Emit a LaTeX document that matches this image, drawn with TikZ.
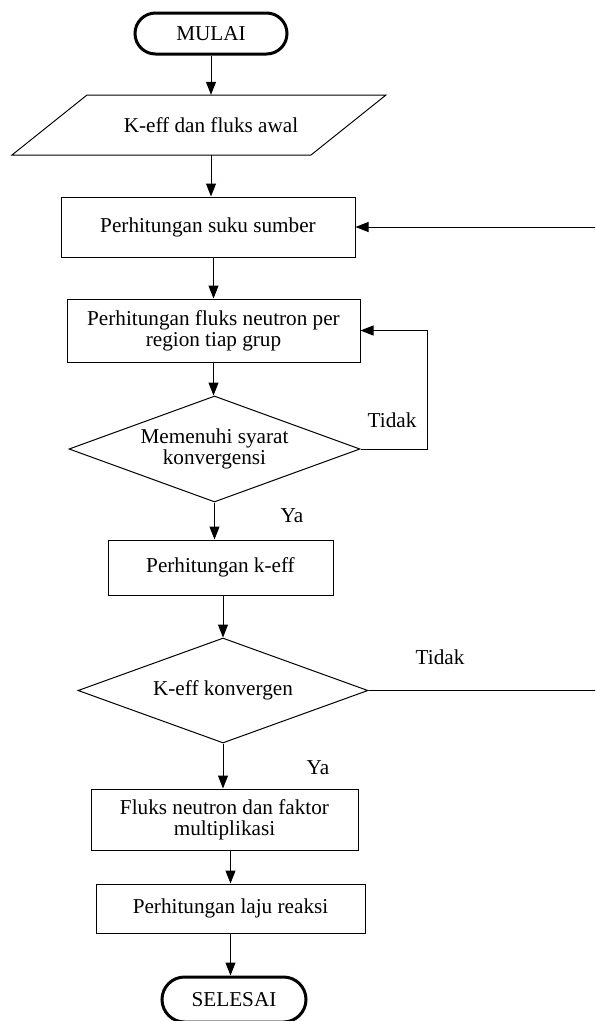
\documentclass[tikz,border=0pt]{standalone}
\usepackage{fontspec}
\setmainfont{Liberation Serif}
\usepackage{tikz}
\usetikzlibrary{arrows.meta, shapes.geometric, shapes.misc}

\begin{document}
\begin{tikzpicture}[x=1pt, y=-1pt,
    font=\fontsize{21.2}{21}\selectfont,
    arr/.style={-{Triangle[length=13pt, width=10pt]}, line width=1pt},
    terminal/.style={rounded rectangle, draw, line width=3pt, minimum width=#1, minimum height=41pt, inner sep=0pt},
    proses/.style={rectangle, draw, line width=1pt, align=center, inner sep=0pt},
    keputusan/.style={diamond, draw, line width=1pt, align=center, inner sep=0pt, aspect=2.75}]
    \useasboundingbox (0, 0) rectangle (595, 1021);
    \clip (0, 0) rectangle (595, 1021);

    \node[terminal=152pt] (mulai) at (211, 33.5) {MULAI};
    \node[minimum width=224pt, minimum height=60pt, inner sep=0pt] (awal) at (211, 125) {K-eff dan fluks awal};
    \draw[line width=1pt] (87, 95) -- (386, 95) -- (311, 155) -- (12, 155) -- cycle;
    \node[proses, minimum width=294pt, minimum height=60pt] (suku) at (208, 227) {Perhitungan suku sumber};
    \node[proses, minimum width=293pt, minimum height=63pt] (fluks) at (213.5, 330.5) {Perhitungan fluks neutron per\\region tiap grup};
    \node[keputusan, minimum width=291pt, minimum height=106pt] (syarat) at (214.5, 449) {Memenuhi syarat\\konvergensi};
    \node[proses, minimum width=225pt, minimum height=55pt] (keff) at (220.5, 567.5) {Perhitungan k-eff};
    \node[keputusan, minimum width=290pt, minimum height=105pt] (konv) at (223, 690.5) {K-eff konvergen};
    \node[proses, minimum width=267pt, minimum height=61pt] (faktor) at (224.5, 819.5) {Fluks neutron dan faktor\\multiplikasi};
    \node[proses, minimum width=269pt, minimum height=49pt] (laju) at (230.5, 908.5) {Perhitungan laju reaksi};
    \node[terminal=144pt, minimum height=45pt] (selesai) at (234, 999.5) {SELESAI};

    \node (tidaka) at (392, 420) {Tidak};
    \node (yaa) at (292, 516) {Ya};
    \node (tidakb) at (440, 657) {Tidak};
    \node (yab) at (318, 768) {Ya};

    \draw[arr] (mulai.south) -- (mulai.south |- awal.north);
    \draw[arr] (awal.south) -- (awal.south |- suku.north);
    \draw[arr] (fluks.north |- suku.south) -- (fluks.north);
    \draw[arr] (fluks.south) -- (fluks.south |- syarat.north);
    \draw[arr] (syarat.south) -- (syarat.south |- keff.north);
    \draw[arr] (konv.north |- keff.south) -- (konv.north);
    \draw[arr] (konv.south) -- (konv.south |- faktor.north);
    \draw[arr] (laju.north |- faktor.south) -- (laju.north);
    \draw[arr] (laju.south) -- (laju.south |- selesai.north);
    \draw[arr] (syarat.east) -- +(67, 0) |- (fluks.east);
    \draw[arr] (konv.east) -- +(245, 0) |- (suku.east);
\end{tikzpicture}
\end{document}
